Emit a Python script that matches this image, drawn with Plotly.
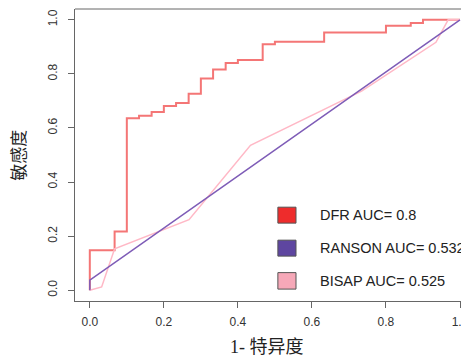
import plotly.graph_objects as go

# ---- data ----
dfr_x = [0, 0, 0.067, 0.1, 0.133, 0.167, 0.2, 0.233, 0.267, 0.3, 0.333, 0.367, 0.4, 0.467, 0.5, 0.633, 0.8, 0.867, 0.9, 1.0]
dfr_y = [0, 0.148, 0.217, 0.636, 0.645, 0.659, 0.681, 0.692, 0.727, 0.783, 0.816, 0.840, 0.851, 0.910, 0.919, 0.953, 0.978, 0.988, 1.0, 1.0]

ranson_x = [0, 0, 1.0]
ranson_y = [0, 0.037, 1.0]

bisap_x = [0, 0.032, 0.067, 0.268, 0.434, 0.734, 0.935, 0.968, 1.0]
bisap_y = [0, 0.012, 0.153, 0.261, 0.536, 0.736, 0.917, 1.0, 1.0]

legend_labels = ["DFR AUC= 0.8", "RANSON AUC= 0.532", "BISAP AUC= 0.525"]
line_colors = ["rgba(238,44,44,0.65)", "#7E5CB7", "#FFB8C6"]
legend_fill = ["#EE2C2C", "#5E46A0", "#F6A8B8"]

tick_vals = [0, 0.2, 0.4, 0.6, 0.8, 1.0]
tick_text = ["0.0", "0.2", "0.4", "0.6", "0.8", "1.0"]

x_title = "1- 特异度"
y_title = "敏感度"

fig = go.Figure()
fig.add_trace(go.Scatter(x=dfr_x, y=dfr_y, mode="lines", line=dict(color=line_colors[0], width=2, shape="hv"), showlegend=False))
fig.add_trace(go.Scatter(x=bisap_x, y=bisap_y, mode="lines", line=dict(color=line_colors[2], width=1.5), showlegend=False))
fig.add_trace(go.Scatter(x=ranson_x, y=ranson_y, mode="lines", line=dict(color=line_colors[1], width=1.5), showlegend=False))

# legend (R-style filled boxes)
box_x0, box_x1 = 0.508, 0.557
box_rows = [(0.248, 0.307), (0.126, 0.185), (0.004, 0.065)]
for (y0, y1), fc, lab in zip(box_rows, legend_fill, legend_labels):
    fig.add_shape(type="rect", xref="x", yref="y", x0=box_x0, x1=box_x1, y0=y0, y1=y1,
                  fillcolor=fc, line=dict(color="#555555", width=1))
    fig.add_annotation(x=0.616, y=(y0 + y1) / 2, xref="x", yref="y", text=lab, showarrow=False,
                       xanchor="left", yanchor="middle",
                       font=dict(family="Liberation Sans, Arial", size=14.5, color="#222222"))

# top box line
fig.add_shape(type="line", xref="paper", yref="paper", x0=0, x1=1, y0=1, y1=1,
              line=dict(color="#666666", width=1))

fig.add_annotation(x=0.487, y=-0.158, xref="paper", yref="paper", text=x_title, showarrow=False,
                   xanchor="center", yanchor="middle",
                   font=dict(family="Liberation Serif, Noto Sans CJK SC", size=18, color="#222222"))
fig.add_annotation(x=-0.143, y=0.50, xref="paper", yref="paper", text=y_title, showarrow=False,
                   textangle=-90, xanchor="center", yanchor="middle",
                   font=dict(family="Liberation Serif, Noto Sans CJK SC", size=17, color="#222222"))

fig.update_layout(
    width=469, height=349,
    margin=dict(l=67, r=8, t=1, b=56),
    paper_bgcolor="white", plot_bgcolor="white",
    xaxis=dict(range=[-0.04, 1.0243], tickvals=tick_vals, ticktext=tick_text, showgrid=False, zeroline=False,
               showline=True, linecolor="#666666", linewidth=1, ticks="outside", ticklen=6, tickcolor="#666666",
               ticklabelstandoff=4, ticklabeloverflow="allow",
               tickfont=dict(family="Liberation Sans, Arial", size=12, color="#333333")),
    yaxis=dict(range=[-0.04, 1.04], tickvals=tick_vals, ticktext=tick_text, showgrid=False, zeroline=False,
               showline=True, linecolor="#666666", linewidth=1, ticks="outside", ticklen=6, tickcolor="#666666",
               tickangle=-90, ticklabelstandoff=6, ticklabeloverflow="allow",
               tickfont=dict(family="Liberation Sans, Arial", size=12, color="#333333")),
)

fig.write_html("out.html",
               post_script="document.documentElement.style.overflow='hidden';document.body.style.overflow='hidden';")
